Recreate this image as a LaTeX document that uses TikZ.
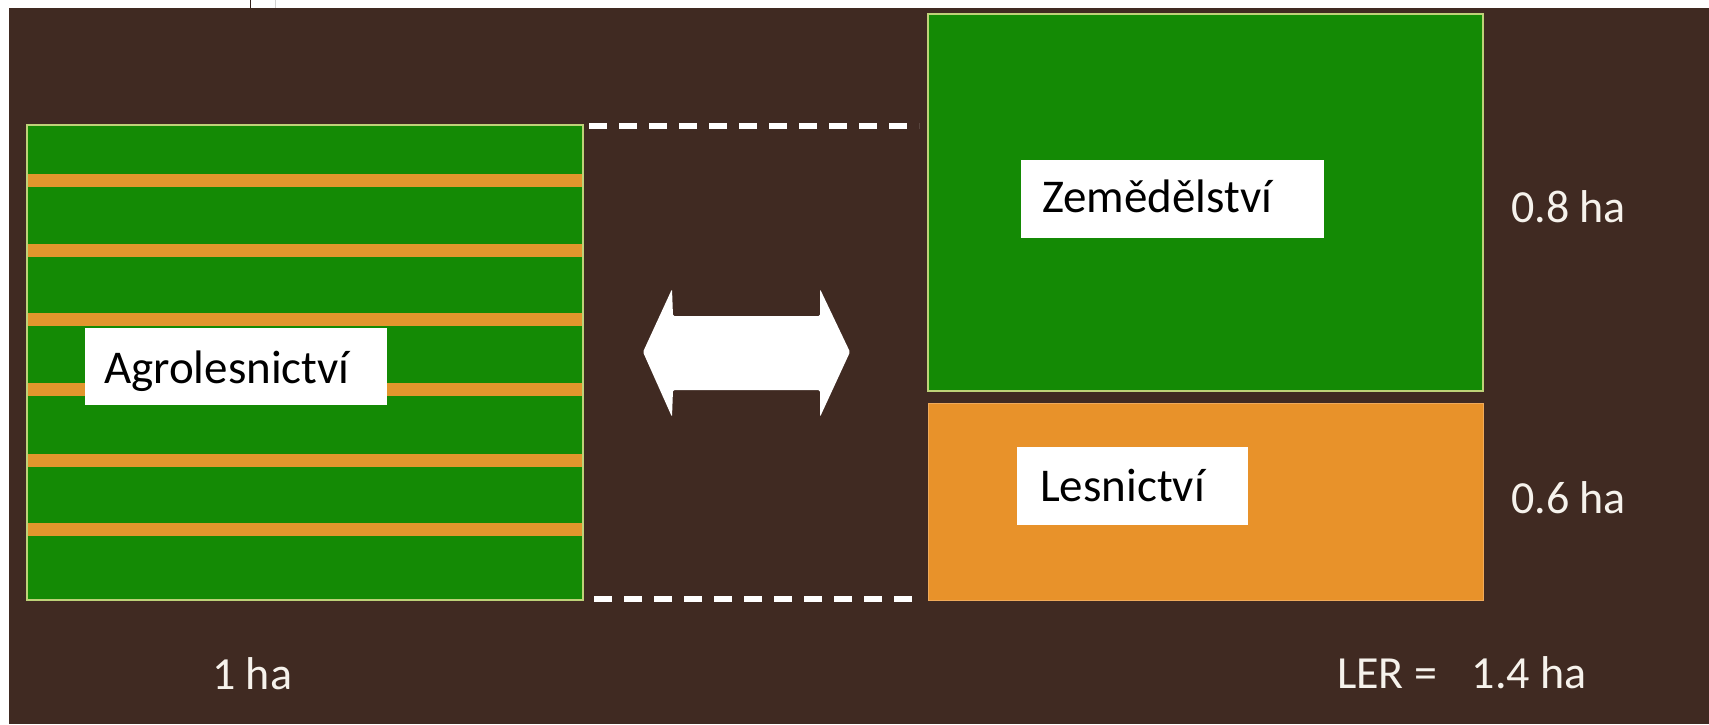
\documentclass[tikz,border=0pt]{standalone}
\usepackage{fontspec}
\setmainfont{Carlito}
\definecolor{bg}{RGB}{64,42,34}
\definecolor{fieldgreen}{RGB}{20,138,5}
\definecolor{forestorange}{RGB}{232,146,42}
\definecolor{stripeorange}{RGB}{226,150,45}
\definecolor{edgegreen}{RGB}{190,210,120}
\definecolor{edgeorange}{RGB}{240,170,90}
\definecolor{labelwhite}{RGB}{246,242,236}
\begin{document}
\begin{tikzpicture}[x=1pt,y=-1pt,
  field/.style={fill=fieldgreen, draw=edgegreen, line width=1.5pt, inner sep=0pt, outer sep=0pt, anchor=north west},
  forest/.style={fill=forestorange, draw=edgeorange, line width=1pt, inner sep=0pt, outer sep=0pt, anchor=north west},
  tagbox/.style={fill=white, inner sep=0pt, outer sep=0pt, anchor=north west},
  tagtext/.style={text=black, inner sep=0pt, anchor=base west, font=\fontsize{47}{56}\selectfont},
  area/.style={text=labelwhite, inner sep=0pt, anchor=base west, font=\fontsize{46}{54}\selectfont},
  dashline/.style={draw=white, line width=6pt, dash pattern=on 18pt off 12pt},
  swap/.style={fill=white, rounded corners=1.5pt}]
\useasboundingbox (0,0) rectangle (1709,724);
\fill[bg] (0,0) rectangle (1709,724);
\fill[white] (0,0) rectangle (1709,8);
\fill[white] (0,0) rectangle (9,724);
\draw[bg!80!black, line width=1pt] (250.5,0) -- (250.5,8);
\draw[gray!35, line width=1pt] (275.5,0) -- (275.5,8);

% left: agroforestry field
\node[field, minimum width=556pt, minimum height=475pt] (agro) at (27,125) {};
\foreach \y in {174,244,313,383,454,523}
  \fill[stripeorange] (27,\y) rectangle (583,\y+13);
\draw[edgegreen, line width=1.5pt] (agro.north west) rectangle (agro.south east);
\node[tagbox, minimum width=302pt, minimum height=77pt] (agrotag) at (85,328) {};
\node[tagtext] (agrotext) at (104,383) {Agrolesnictví};

% right: separate agriculture and forestry
\node[field, minimum width=555pt, minimum height=377pt] (zem) at (928,14) {};
\node[forest, minimum width=555pt, minimum height=197pt] (les) at (928,403) {};
\node[tagbox, minimum width=303pt, minimum height=78pt] (zemtag) at (1021,160) {};
\node[tagtext] (zemtext) at (1042,212) {Zemědělství};
\node[tagbox, minimum width=231pt, minimum height=78pt] (lestag) at (1017,447) {};
\node[tagtext] (lestext) at (1040,501) {Lesnictví};

% dashed guides
\coordinate (dtopend) at (919,126);
\coordinate (dbotend) at (921,599);
\draw[dashline] ([xshift=6pt,yshift=-1pt]agro.north east) -- (dtopend);
\draw[dashline] ([xshift=11pt,yshift=1pt]agro.south east) -- (dbotend);

% double arrow
\fill[swap] (643,352) -- (672,289) -- (673,316) -- (820,316) -- (820,289)
  -- (850,352) -- (820,417) -- (820,390) -- (673,390) -- (672,417) -- cycle;

% area labels
\node[area] (ha08) at (1511,222) {0.8 ha};
\node[area] (ha06) at (1511,513) {0.6 ha};
\node[area] (ha1) at (212,689) {1 ha};
\node[area] (ler) at (1337,688) {LER =\hspace{0.75em}1.4 ha};
\end{tikzpicture}
\end{document}
